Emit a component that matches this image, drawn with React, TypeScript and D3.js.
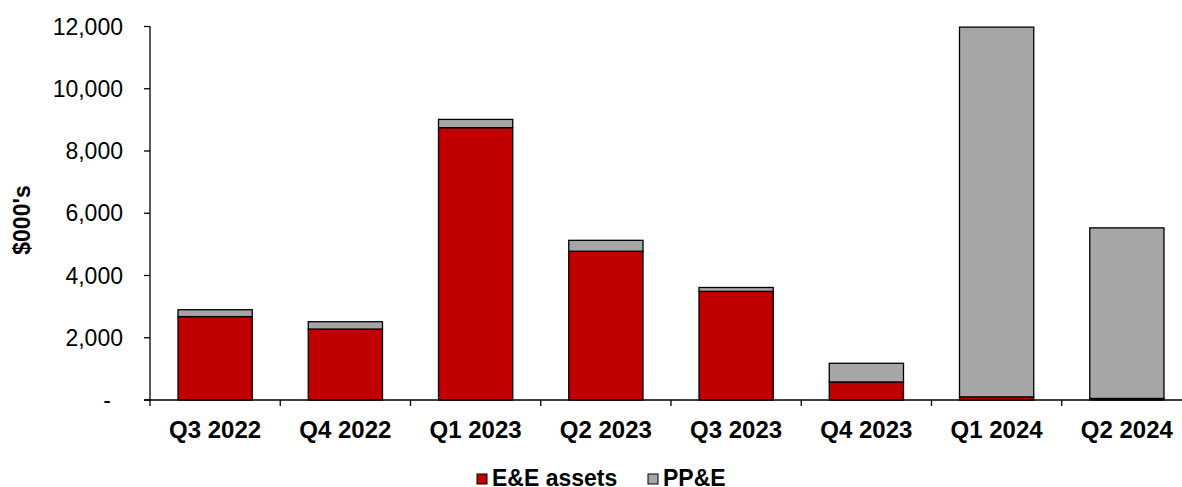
import React, { useEffect, useRef } from "react";
import * as d3 from "d3";

const categories = ["Q3 2022", "Q4 2022", "Q1 2023", "Q2 2023", "Q3 2023", "Q4 2023", "Q1 2024", "Q2 2024"];
const eeAssets = [2680, 2280, 8750, 4780, 3490, 580, 100, 50];
const ppe = [220, 235, 265, 350, 125, 600, 11880, 5480];
const yTicks = [0, 2000, 4000, 6000, 8000, 10000, 12000];
const seriesNames = ["E&E assets", "PP&E"];
const colors = ["#C00000", "#A6A6A6"];

const W = 1182, H = 487;
const left = 150, right = 1192, top = 26.5, bottom = 400;
const FONT = "'Liberation Sans', Arial, sans-serif";

export default function App() {
  const ref = useRef<SVGSVGElement>(null);
  useEffect(() => {
    const svg = d3.select(ref.current);
    svg.selectAll("*").remove();
    const x = d3.scaleBand().domain(categories).range([left, right]).paddingInner(0.43).paddingOuter(0.215);
    const y = d3.scaleLinear().domain([0, 12000]).range([bottom, top]);

    const data = categories.map((c, i) => ({ cat: c, ee: eeAssets[i], ppe: ppe[i] }));
    const stack = d3.stack<any>().keys(["ee", "ppe"])(data);

    stack.forEach((s, si) => {
      svg.append("g").selectAll("rect").data(s).join("rect")
        .attr("x", (d: any) => x(d.data.cat)!)
        .attr("width", x.bandwidth())
        .attr("y", (d: any) => y(d[1]))
        .attr("height", (d: any) => y(d[0]) - y(d[1]))
        .attr("fill", colors[si])
        .attr("stroke", "#000")
        .attr("stroke-width", 1.3);
    });

    // y axis
    const g = svg.append("g");
    g.append("line").attr("x1", left).attr("x2", left).attr("y1", y(12000)).attr("y2", bottom + 6).attr("stroke", "#000").attr("stroke-width", 1.3);
    yTicks.forEach(t => {
      g.append("line").attr("x1", left - 6).attr("x2", left).attr("y1", y(t)).attr("y2", y(t)).attr("stroke", "#000").attr("stroke-width", 1.3);
      g.append("text").attr("x", t === 0 ? 107 : 123).attr("y", y(t)).attr("dy", "0.35em")
        .attr("text-anchor", t === 0 ? "middle" : "end")
        .attr("font-family", FONT).attr("font-size", 23).attr("fill", "#000")
        .text(t === 0 ? "-" : d3.format(",")(t));
    });
    // x axis
    g.append("line").attr("x1", left - 6).attr("x2", right).attr("y1", bottom).attr("y2", bottom).attr("stroke", "#000").attr("stroke-width", 1.3);
    categories.forEach((c, i) => {
      const bx = left + i * ((right - left) / categories.length);
      if (i > 0) g.append("line").attr("x1", bx).attr("x2", bx).attr("y1", bottom).attr("y2", bottom + 6).attr("stroke", "#000").attr("stroke-width", 1.3);
      g.append("text").attr("x", x(c)! + x.bandwidth() / 2).attr("y", 438)
        .attr("text-anchor", "middle").attr("font-family", FONT).attr("font-weight", "bold").attr("font-size", 24)
        .text(c);
    });

    // y title
    svg.append("text").attr("transform", `translate(30,220) rotate(-90)`)
      .attr("text-anchor", "middle").attr("font-family", FONT).attr("font-weight", "bold").attr("font-size", 23)
      .text("$000's");

    // legend
    const leg = [{ x: 477, name: seriesNames[0], c: colors[0] }, { x: 648, name: seriesNames[1], c: colors[1] }];
    leg.forEach(l => {
      svg.append("rect").attr("x", l.x).attr("y", 474).attr("width", 10).attr("height", 10).attr("fill", l.c).attr("stroke", "#000").attr("stroke-width", 1);
      svg.append("text").attr("x", l.x + 15).attr("y", 486).attr("font-family", FONT).attr("font-weight", "bold").attr("font-size", 23).text(l.name);
    });
  }, []);
  return <svg ref={ref} width={W} height={H} style={{ position: "absolute", left: 0, top: 0, background: "#fff" }} />;
}
